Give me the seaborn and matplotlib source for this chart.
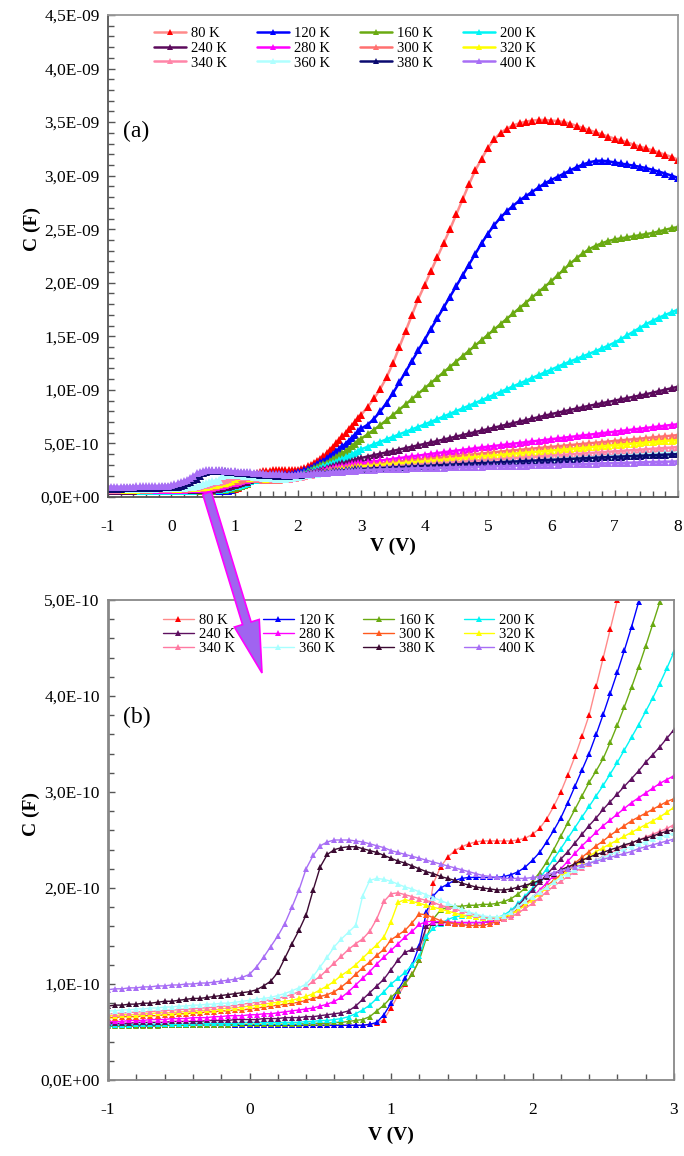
import numpy as np
import pandas as pd
import seaborn as sns
import matplotlib.pyplot as plt
from matplotlib.patches import FancyArrow
from matplotlib.ticker import FuncFormatter

# bias sweep: 0.05 V steps from -1 to 3 V, then 0.1 V steps up to 8 V
volts = np.round(np.concatenate([np.linspace(-1, 3, 81), np.linspace(3.1, 8, 50)]), 2)

temps = ['80 K', '120 K', '160 K', '200 K', '240 K', '280 K',
         '300 K', '320 K', '340 K', '360 K', '380 K', '400 K']

# capacitance, in pF
c_80 = ([57] * 30 +
        [57, 57, 57, 57, 57, 57, 57, 58, 59, 63,
         75, 88, 100, 110, 125, 160, 205, 222, 232, 239,
         243, 246, 248, 249, 249, 249, 249, 249, 250, 252,
         256, 262, 272, 285, 300, 318, 337, 358, 380, 410,
         440, 470, 500, 532, 565, 598, 632, 666, 700, 735,
         770] +
        [840, 920, 1010, 1120, 1250, 1400, 1550, 1700, 1850, 1980,
         2110, 2240, 2370, 2500, 2640, 2780, 2920, 3050, 3160, 3260,
         3340, 3400, 3440, 3470, 3490, 3505, 3515, 3520, 3520, 3515,
         3510, 3500, 3485, 3465, 3445, 3425, 3405, 3385, 3365, 3345,
         3330, 3310, 3290, 3270, 3255, 3235, 3215, 3195, 3175, 3150])

c_120 = ([57] * 30 +
         [57, 57, 57, 57, 57, 57, 57, 58, 60, 68,
          80, 94, 106, 120, 140, 175, 192, 200, 204, 208,
          210, 211, 211, 211, 211, 211, 212, 214, 217, 222,
          229, 237, 248, 260, 273, 289, 306, 323, 340, 360,
          381, 403, 425, 448, 472, 498, 525, 553, 582, 612,
          640] +
         [675, 730, 800, 880, 970, 1070, 1170, 1270, 1370, 1470,
          1570, 1670, 1770, 1870, 1970, 2070, 2170, 2270, 2370, 2460,
          2540, 2610, 2670, 2720, 2770, 2810, 2850, 2890, 2930, 2960,
          2990, 3020, 3050, 3080, 3105, 3125, 3138, 3140, 3134, 3124,
          3115, 3105, 3095, 3083, 3070, 3055, 3038, 3020, 3000, 2980])

c_160 = ([56, 56, 56, 56, 56, 56, 56, 56, 57, 57,
          57, 57, 57, 57, 57, 57, 57, 57, 58, 58,
          58, 58, 58, 58, 58, 58, 58, 58, 59, 59,
          59, 59, 60, 60, 61, 62, 63, 66, 72, 78,
          86, 93, 101, 110, 125, 148, 168, 177, 180, 181,
          181, 182, 182, 183, 183, 184, 186, 189, 194, 200,
          207, 216, 227, 240, 254, 268, 282, 296, 310, 322,
          335, 352, 370, 389, 409, 430, 452, 475, 498, 522,
          546] +
         [585, 628, 672, 718, 765, 815, 865, 915, 965, 1015,
          1065, 1115, 1165, 1215, 1265, 1315, 1365, 1415, 1465, 1515,
          1565, 1615, 1665, 1715, 1765, 1815, 1865, 1915, 1965, 2015,
          2070, 2125, 2180, 2230, 2275, 2315, 2345, 2370, 2390, 2405,
          2415, 2425, 2435, 2445, 2455, 2465, 2480, 2495, 2510, 2520])

c_200 = ([57, 57, 57, 57, 58, 58, 58, 58, 58, 58,
          58, 58, 59, 59, 59, 59, 59, 59, 59, 60,
          60, 60, 60, 60, 60, 60, 60, 60, 61, 61,
          62, 62, 63, 64, 66, 69, 73, 78, 85, 92,
          100, 106, 112, 120, 129, 150, 158, 163, 167, 170,
          171, 171, 170, 169, 168, 169, 172, 177, 184, 192,
          200, 210, 220, 230, 241, 252, 263, 274, 285, 296,
          307, 319, 331, 344, 357, 370, 384, 398, 413, 429,
          446] +
         [470, 493, 516, 539, 562, 585, 608, 631, 654, 678,
          702, 727, 752, 777, 802, 827, 852, 878, 904, 930,
          956, 982, 1008, 1034, 1060, 1086, 1112, 1138, 1164, 1190,
          1216, 1242, 1266, 1290, 1314, 1338, 1362, 1388, 1414, 1442,
          1475, 1510, 1545, 1580, 1615, 1645, 1675, 1700, 1725, 1750])

c_240 = ([59, 59, 59, 59, 60, 60, 60, 60, 60, 61,
          61, 61, 61, 61, 62, 62, 62, 62, 63, 63,
          63, 63, 64, 64, 64, 65, 65, 65, 66, 66,
          67, 68, 69, 70, 72, 77, 84, 91, 98, 105,
          115, 125, 133, 136, 137, 160, 164, 164, 164, 164,
          164, 164, 164, 164, 165, 167, 170, 175, 182, 190,
          198, 206, 214, 222, 230, 238, 247, 256, 265, 273,
          282, 290, 298, 306, 314, 322, 331, 339, 347, 356,
          365] +
         [378, 391, 404, 417, 430, 443, 456, 469, 482, 495,
          509, 523, 537, 551, 565, 579, 593, 607, 621, 635,
          649, 663, 677, 691, 705, 719, 733, 747, 761, 775,
          788, 801, 814, 827, 840, 852, 864, 876, 888, 900,
          912, 924, 936, 948, 960, 974, 988, 1002, 1016, 1030])

c_280 = ([61, 61, 61, 62, 62, 62, 63, 63, 63, 64,
          64, 64, 65, 65, 65, 66, 66, 67, 67, 67,
          68, 68, 69, 69, 70, 71, 72, 73, 74, 75,
          77, 79, 82, 86, 92, 99, 106, 113, 121, 128,
          135, 142, 149, 155, 162, 165, 165, 165, 165, 164,
          164, 164, 164, 164, 165, 166, 168, 172, 178, 184,
          190, 198, 205, 213, 220, 228, 236, 244, 251, 258,
          265, 271, 277, 283, 289, 294, 299, 304, 309, 313,
          317] +
         [325, 333, 341, 349, 357, 364, 371, 379, 387, 395,
          403, 410, 418, 425, 433, 440, 448, 455, 463, 470,
          477, 484, 491, 498, 505, 512, 519, 526, 533, 540,
          547, 554, 561, 568, 575, 582, 589, 596, 603, 610,
          617, 624, 631, 638, 645, 652, 659, 666, 673, 680])

c_300 = ([65, 65, 66, 66, 66, 67, 67, 67, 68, 68,
          69, 69, 70, 70, 71, 71, 72, 72, 73, 73,
          74, 75, 76, 77, 78, 79, 80, 81, 83, 85,
          87, 89, 92, 97, 103, 110, 117, 123, 130, 136,
          146, 151, 156, 164, 173, 172, 169, 166, 164, 163,
          162, 161, 161, 161, 163, 165, 168, 173, 178, 184,
          190, 196, 202, 208, 214, 220, 226, 232, 238, 244,
          249, 255, 260, 265, 270, 274, 278, 282, 286, 290,
          293] +
         [299, 305, 311, 317, 323, 329, 335, 341, 347, 353,
          359, 365, 371, 377, 383, 389, 395, 401, 407, 413,
          419, 424, 430, 435, 441, 446, 452, 457, 463, 468,
          474, 479, 485, 490, 496, 501, 507, 512, 518, 523,
          529, 534, 540, 545, 551, 556, 562, 567, 573, 578])

c_320 = ([67, 67, 68, 68, 68, 69, 69, 70, 70, 70,
          71, 71, 72, 72, 73, 73, 74, 75, 75, 76,
          77, 78, 79, 80, 81, 82, 83, 85, 87, 90,
          94, 98, 103, 109, 114, 120, 127, 134, 141, 149,
          165, 185, 188, 186, 184, 182, 180, 178, 176, 174,
          172, 171, 170, 169, 169, 169, 170, 173, 177, 182,
          188, 194, 200, 206, 212, 218, 223, 228, 233, 238,
          242, 246, 250, 254, 258, 262, 266, 270, 274, 279,
          284] +
         [289, 294, 299, 304, 309, 314, 319, 324, 329, 334,
          339, 344, 349, 354, 359, 364, 369, 374, 379, 384,
          389, 394, 399, 404, 409, 414, 419, 424, 429, 434,
          439, 444, 449, 454, 459, 464, 469, 474, 479, 484,
          489, 494, 499, 504, 509, 514, 519, 524, 527, 530])

c_340 = ([69, 69, 70, 70, 71, 71, 71, 72, 72, 73,
          73, 74, 74, 75, 75, 76, 77, 77, 78, 79,
          80, 81, 82, 84, 85, 87, 89, 92, 97, 103,
          108, 115, 122, 129, 136, 142, 147, 155, 168, 186,
          194, 195, 193, 191, 189, 187, 185, 182, 180, 178,
          176, 174, 172, 170, 169, 168, 168, 170, 174, 179,
          184, 190, 196, 202, 207, 212, 217, 221, 225, 229,
          233, 237, 240, 243, 247, 250, 253, 256, 259, 262,
          266] +
         [270, 274, 278, 282, 286, 290, 294, 298, 302, 306,
          310, 314, 318, 322, 326, 330, 334, 338, 342, 346,
          350, 354, 358, 362, 366, 370, 374, 378, 382, 386,
          390, 394, 398, 402, 406, 410, 414, 418, 422, 426,
          430, 434, 438, 442, 446, 450, 454, 458, 462, 466])

c_360 = ([72, 72, 73, 73, 74, 74, 75, 75, 76, 76,
          77, 77, 78, 78, 79, 79, 80, 80, 81, 82,
          83, 84, 85, 86, 88, 90, 93, 96, 100, 108,
          118, 128, 139, 147, 154, 161, 192, 208, 210, 209,
          207, 204, 201, 199, 196, 193, 190, 187, 184, 181,
          178, 175, 173, 171, 170, 170, 171, 175, 181, 186,
          191, 196, 201, 206, 211, 215, 219, 223, 226, 229,
          232, 235, 238, 241, 243, 246, 248, 251, 253, 255,
          257] +
         [260, 263, 266, 269, 272, 275, 278, 281, 284, 287,
          290, 293, 296, 300, 303, 306, 309, 312, 316, 319,
          322, 325, 328, 332, 335, 338, 341, 344, 348, 351,
          354, 357, 360, 364, 367, 370, 373, 376, 380, 383,
          386, 389, 392, 396, 399, 402, 405, 408, 412, 415])

c_380 = ([77, 78, 78, 79, 79, 80, 80, 81, 82, 82,
          83, 84, 85, 85, 86, 87, 88, 89, 90, 91,
          92, 94, 98, 103, 112, 127, 142, 156, 172, 198,
          222, 235, 240, 242, 243, 243, 241, 239, 237, 234,
          231, 228, 226, 223, 220, 217, 215, 212, 210, 208,
          205, 203, 201, 200, 199, 198, 198, 199, 201, 203,
          205, 208, 211, 215, 219, 222, 225, 229, 232, 235,
          237, 240, 242, 245, 247, 250, 252, 254, 257, 259,
          261] +
         [264, 267, 270, 273, 276, 279, 282, 285, 288, 291,
          294, 297, 300, 302, 305, 308, 311, 314, 316, 319,
          322, 325, 328, 330, 333, 336, 339, 342, 344, 347,
          350, 353, 356, 358, 361, 364, 367, 370, 372, 375,
          378, 380, 383, 385, 388, 390, 393, 395, 398, 400])

c_400 = ([94, 95, 95, 96, 96, 97, 97, 98, 98, 99,
          99, 100, 100, 101, 101, 102, 103, 104, 105, 107,
          110, 118, 128, 139, 150, 163, 180, 198, 220, 234,
          244, 248, 250, 250, 250, 249, 248, 246, 244, 242,
          239, 237, 235, 233, 231, 229, 227, 225, 223, 221,
          219, 217, 215, 213, 212, 211, 210, 210, 210, 210,
          211, 212, 214, 216, 218, 220, 222, 224, 226, 228,
          230, 232, 234, 236, 238, 241, 243, 245, 247, 249,
          251] +
         [253, 255, 257, 259, 261, 263, 265, 267, 268, 270,
          271, 273, 274, 276, 277, 279, 280, 282, 283, 285,
          286, 288, 290, 291, 293, 294, 296, 298, 299, 301,
          302, 304, 306, 307, 309, 310, 312, 314, 315, 317,
          318, 320, 322, 323, 325, 326, 328, 330, 331, 332])

series = [c_80, c_120, c_160, c_200, c_240, c_280,
          c_300, c_320, c_340, c_360, c_380, c_400]

colors_a = ['#FF0000', '#0000FF', '#6AAA12', '#00F5F5', '#5C0A5C', '#FF00FF',
            '#FF7070', '#FFFF00', '#FF85A8', '#B0FFFF', '#0A0A70', '#A86EF5']
colors_b = ['#FF0000', '#0000FF', '#6AAA12', '#00F5F5', '#5E1060', '#FF00FF',
            '#FF5A1E', '#FFFF00', '#FF7AA2', '#A8FFFF', '#3C0A32', '#A86EF5']

df = pd.concat([pd.DataFrame({'V': volts, 'C': np.array(c) * 1e-12, 'T': t})
                for t, c in zip(temps, series)], ignore_index=True)

sns.set_theme(style='ticks')
plt.rcParams['font.family'] = ['Liberation Serif', 'DejaVu Serif']
plt.rcParams['text.color'] = 'black'
plt.rcParams['axes.labelcolor'] = 'black'

fig = plt.figure(figsize=(6.84, 11.56), dpi=100)
fig.patch.set_facecolor('white')
ax_a = fig.add_axes([108 / 684, (1156 - 497) / 1156, 570 / 684, 482 / 1156])
ax_b = fig.add_axes([108 / 684, (1156 - 1080) / 1156, 566 / 684, 480 / 1156])


def sci_comma(v, pos):
    return f'{v:.1E}'.replace('.', ',')


def draw(ax, colors, lw, ms, xmax, ymax, nmajor, nminor, xpad):
    pal = dict(zip(temps, colors))
    sns.lineplot(data=df, x='V', y='C', hue='T', hue_order=temps, palette=pal,
                 marker='^', markersize=ms, markeredgewidth=0, linewidth=lw,
                 estimator=None, sort=False, legend=False, ax=ax)
    first = ax.get_lines()[0]
    first.set_color('#FF8A8A')
    first.set_markerfacecolor('#FF0000')

    ax.set_xlim(-1, xmax)
    ax.set_ylim(0, ymax)
    ax.set_xticks(np.arange(-1, xmax + 0.5, 1))
    ax.set_xticks(np.linspace(-1, xmax, int(round((xmax + 1) * 5)) + 1), minor=True)
    ax.set_yticks(np.linspace(0, ymax, nmajor + 1))
    ax.set_yticks(np.linspace(0, ymax, nminor + 1), minor=True)
    ax.yaxis.set_major_formatter(FuncFormatter(sci_comma))
    ax.xaxis.set_major_formatter(FuncFormatter(lambda v, p: f'{v:.0f}'))
    ax.tick_params(which='both', direction='in', top=False, right=False,
                   color='#555555', labelcolor='black', labelsize=12.5, width=1)
    ax.tick_params(which='major', length=5)
    ax.tick_params(which='minor', length=4)
    ax.tick_params(axis='x', pad=xpad)
    ax.tick_params(axis='y', pad=6)
    ax.set_xlabel('V (V)', fontsize=14, fontweight='bold')
    ax.set_ylabel('C (F)', fontsize=14, fontweight='bold')
    ax.set_facecolor('white')

    lines = ax.get_lines()[:12]
    order = [0, 4, 8, 1, 5, 9, 2, 6, 10, 3, 7, 11]
    return [lines[i] for i in order], [temps[i] for i in order]


h, l = draw(ax_a, colors_a, 1.8, 5.5, 8, 4.5e-9, 9, 45, 16)
ax_a.legend(h, l, ncol=4, loc='upper left', bbox_to_anchor=(154 / 684, 1 - 27 / 1156),
            bbox_transform=fig.transFigure, frameon=False, fontsize=10.5,
            handlelength=2.2, handletextpad=0.35, columnspacing=2.05,
            labelspacing=0.1, borderpad=0, borderaxespad=0, numpoints=1,
            markerscale=0.9)
ax_a.xaxis.set_label_coords(0.5, -0.085)
ax_a.yaxis.set_label_coords(-0.118, 0.555)
for s in ['left', 'bottom']:
    ax_a.spines[s].set_color('#555555')
    ax_a.spines[s].set_linewidth(1.3)
for s in ['top', 'right']:
    ax_a.spines[s].set_color('#999999')
    ax_a.spines[s].set_linewidth(1.3)

h, l = draw(ax_b, colors_b, 1.0, 5, 3, 5e-10, 5, 25, 16)
ax_b.legend(h, l, ncol=4, loc='upper left', bbox_to_anchor=(163 / 684, 1 - 614 / 1156),
            bbox_transform=fig.transFigure, frameon=False, fontsize=10.5,
            handlelength=2.1, handletextpad=0.35, columnspacing=1.95,
            labelspacing=0.05, borderpad=0, borderaxespad=0, numpoints=1)
ax_b.xaxis.set_label_coords(0.5, -0.098)
ax_b.yaxis.set_label_coords(-0.12, 0.555)
for s in ['left', 'bottom', 'top', 'right']:
    ax_b.spines[s].set_color('#888888')
    ax_b.spines[s].set_linewidth(1.3)
ax_b.spines['left'].set_linewidth(2)

fig.text(123 / 684, 1 - 131 / 1156, '(a)', fontsize=17, va='center', ha='left')
fig.text(123 / 684, 1 - 717 / 1156, '(b)', fontsize=17, va='center', ha='left')

# zoom arrow from panel (a) down into panel (b)
arrow = FancyArrow(2.07, 6.63, 0.55, -1.80, width=0.09, head_width=0.26, head_length=0.52,
                   length_includes_head=True, transform=fig.dpi_scale_trans,
                   facecolor='#A064F0', edgecolor='#FF00FF', linewidth=1.2, zorder=5)
fig.add_artist(arrow)

fig.savefig('out.png', dpi=100, facecolor='white')
